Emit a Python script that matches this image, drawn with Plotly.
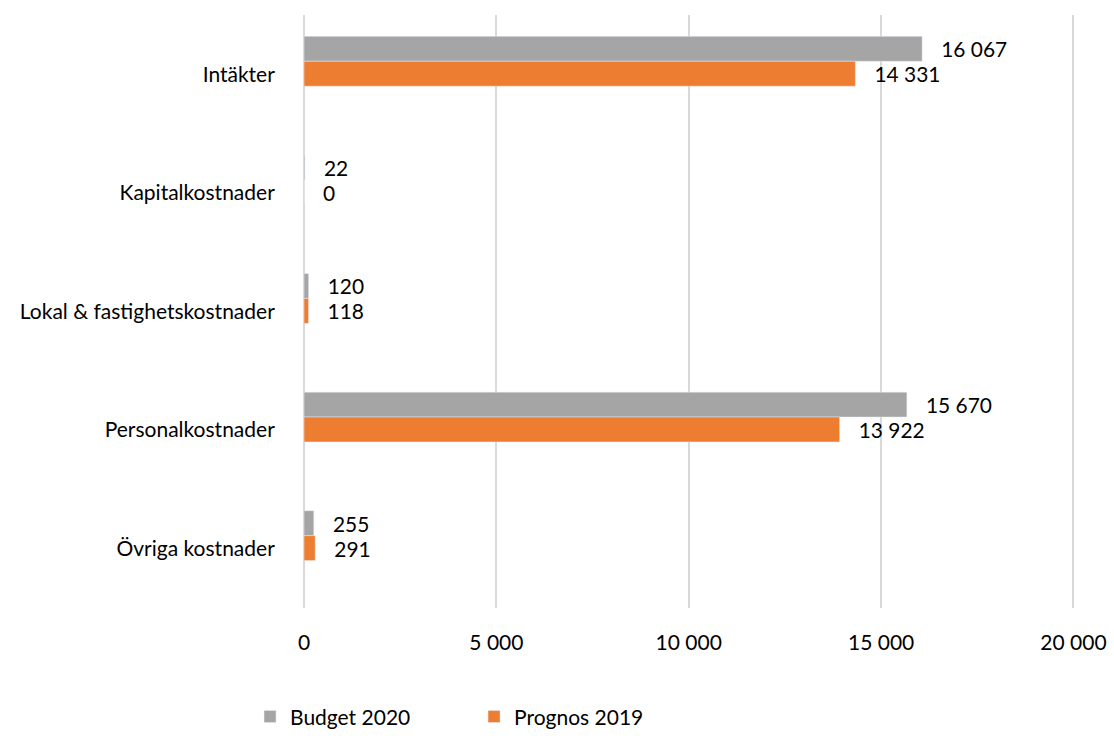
import plotly.graph_objects as go

categories = ["Intäkter", "Kapitalkostnader", "Lokal & fastighetskostnader", "Personalkostnader", "Övriga kostnader"]
budget_2020 = [16067, 22, 120, 15670, 255]
prognos_2019 = [14331, 0, 118, 13922, 291]
x_ticks = [0, 5000, 10000, 15000, 20000]

font = "Lato, 'Open Sans', sans-serif"

fig = go.Figure()
# bars sit a little above the category label, as in the source
fig.add_trace(go.Bar(y=categories, x=budget_2020, name="Budget 2020", orientation="h",
                     marker_color="#A5A5A5", width=0.21, offset=-0.32,
                     texttemplate="   %{x:,.0f}", textposition="outside",
                     textfont=dict(size=21, color="#000000"), cliponaxis=False))
fig.add_trace(go.Bar(y=categories, x=prognos_2019, name="Prognos 2019", orientation="h",
                     marker_color="#ED7D31", width=0.21, offset=-0.11,
                     texttemplate="   %{x:,.0f}", textposition="outside",
                     textfont=dict(size=21, color="#000000"), cliponaxis=False))

fig.update_layout(
    width=1114, height=742,
    barmode="group",
    separators=", ",
    plot_bgcolor="white", paper_bgcolor="white",
    font=dict(family=font, size=21, color="#000000"),
    margin=dict(l=304, r=39, t=15, b=134, autoexpand=False),
    xaxis=dict(range=[0, 20040], tickvals=x_ticks, tickformat=",.0f",
               showgrid=True, gridcolor="#D9D9D9", gridwidth=2,
               zeroline=True, zerolinecolor="#D9D9D9", zerolinewidth=2,
               ticks="outside", ticklen=16, tickcolor="rgba(0,0,0,0)",
               ticklabeloverflow="allow", fixedrange=True),
    yaxis=dict(autorange="reversed", ticks="outside", ticklen=24, tickcolor="rgba(0,0,0,0)",
               showline=False, fixedrange=True),
    legend=dict(orientation="h", x=-0.07, xanchor="left", y=-0.149, yanchor="top",
                entrywidth=179, entrywidthmode="pixels", traceorder="normal",
                font=dict(size=21)),
    showlegend=True,
)

# drop the default 8px body margin so the full-size figure fits the window
fig.write_html("out.html", config={"displayModeBar": False},
               post_script="document.body.style.margin='0';")
